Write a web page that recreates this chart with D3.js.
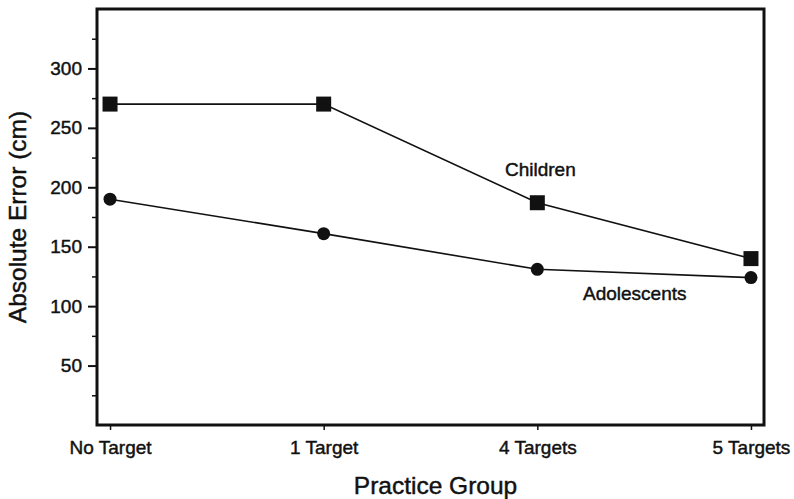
<!DOCTYPE html>
<html>
<head>
<meta charset="utf-8">
<script src="https://cdn.jsdelivr.net/npm/d3@7"></script>
<style>
  body { margin: 0; background: #fff; }
  text { font-family: "Liberation Sans", Arial, sans-serif; fill: #111; stroke: #111; stroke-width: 0.45px; }
</style>
</head>
<body>
<svg id="chart" width="794" height="499"></svg>
<script>
const groups = ["No Target", "1 Target", "4 Targets", "5 Targets"]
const children = [270, 270, 187, 140]
const adolescents = [190, 161, 131, 124]
const majorTicks = [50, 100, 150, 200, 250, 300]
const minorTicks = [25, 75, 125, 175, 225, 275, 325]

const svg = d3.select("#chart")
const plotLeft = 97, plotRight = 764, plotTop = 9, plotBottom = 425

const x = d3.scalePoint().domain(groups).range([plotLeft, plotRight]).padding(0.061)
const y = d3.scaleLinear().domain([0, 350]).range([plotBottom, plotTop])

// y axis, major ticks with labels
svg.append("g")
   .attr("transform", `translate(${plotLeft},0)`)
   .call(d3.axisLeft(y).tickValues(majorTicks).tickSize(9).tickPadding(6))
   .call(g => g.select(".domain").remove())
   .call(g => g.selectAll("line").attr("stroke", "#111").attr("stroke-width", 2))
   .call(g => g.selectAll("text").style("font-size", "19px"))

// minor ticks
svg.append("g")
   .attr("transform", `translate(${plotLeft},0)`)
   .call(d3.axisLeft(y).tickValues(minorTicks).tickSize(5).tickFormat(""))
   .call(g => g.select(".domain").remove())
   .call(g => g.selectAll("line").attr("stroke", "#111").attr("stroke-width", 1.5))

// x axis
svg.append("g")
   .attr("transform", `translate(0,${plotBottom})`)
   .call(d3.axisBottom(x).tickSize(5).tickPadding(11))
   .call(g => g.select(".domain").remove())
   .call(g => g.selectAll("line").attr("stroke", "#111").attr("stroke-width", 1.5))
   .call(g => g.selectAll("text").style("font-size", "19px"))

// frame
svg.append("rect")
   .attr("x", plotLeft).attr("y", plotTop)
   .attr("width", plotRight - plotLeft).attr("height", plotBottom - plotTop)
   .attr("fill", "none").attr("stroke", "#111").attr("stroke-width", 3)

const line = d3.line().x((d, i) => x(groups[i])).y(d => y(d))

svg.append("path").datum(children).attr("d", line)
   .attr("fill", "none").attr("stroke", "#111").attr("stroke-width", 1.6)
svg.append("path").datum(adolescents).attr("d", line)
   .attr("fill", "none").attr("stroke", "#111").attr("stroke-width", 1.6)

svg.selectAll(".sq").data(children).enter().append("rect")
   .attr("class", "sq")
   .attr("x", (d, i) => x(groups[i]) - 7.5)
   .attr("y", d => y(d) - 7.5)
   .attr("width", 15).attr("height", 15)
   .attr("fill", "#111")

svg.selectAll(".dot").data(adolescents).enter().append("circle")
   .attr("class", "dot")
   .attr("cx", (d, i) => x(groups[i]))
   .attr("cy", d => y(d))
   .attr("r", 6.5)
   .attr("fill", "#111")

// series labels
svg.append("text").attr("x", 505).attr("y", 176)
   .style("font-size", "19px").text("Children")
svg.append("text").attr("x", 583).attr("y", 300)
   .style("font-size", "19px").text("Adolescents")

// axis titles
svg.append("text")
   .attr("transform", `translate(26,${(plotTop + plotBottom) / 2}) rotate(-90)`)
   .attr("text-anchor", "middle")
   .style("font-size", "24.5px").text("Absolute Error (cm)")
svg.append("text")
   .attr("x", (plotLeft + plotRight) / 2 + 5).attr("y", 494)
   .attr("text-anchor", "middle")
   .style("font-size", "24.5px").text("Practice Group")
</script>
</body>
</html>
